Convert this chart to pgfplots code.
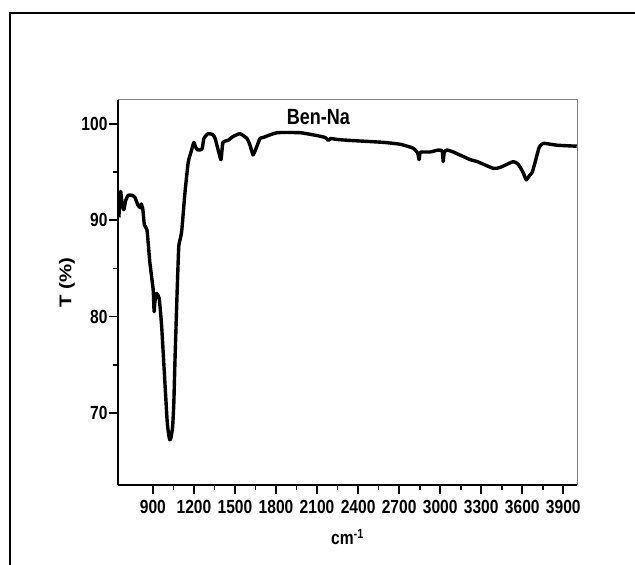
\documentclass[border=0pt]{standalone}
\usepackage{fontspec}
\setmainfont{Liberation Sans}
\newfontfamily\hfont[FakeStretch=0.82]{Liberation Sans}
\newfontfamily\vfont[FakeStretch=1.2]{Liberation Sans}
\usepackage{pgfplots}
\pgfplotsset{compat=1.18}
\pgfplotstableread{
wn T
651 90.3
664 93.0
674 91.8
688 91.1
700 92.0
719 92.6
746 92.6
768 92.4
790 91.6
808 91.3
815 91.7
826 91.2
838 89.5
857 89.0
878 85.6
902 82.8
909 80.5
915 81.6
927 82.4
946 81.9
964 79.0
988 73.1
1005 69.0
1017 67.6
1024 67.2
1032 67.4
1044 68.5
1053 71.0
1061 75.2
1073 80.7
1083 85.0
1090 87.4
1110 88.8
1134 92.8
1158 96.0
1183 97.3
1200 98.1
1212 97.6
1229 97.3
1259 97.4
1273 98.5
1303 99.0
1339 98.9
1355 98.5
1368 97.8
1383 97.0
1398 96.3
1412 98.1
1449 98.3
1485 98.7
1537 99.0
1588 98.5
1610 97.8
1632 96.8
1655 97.5
1683 98.5
1705 98.6
1807 99.1
1976 99.1
2100 98.8
2160 98.6
2181 98.3
2200 98.5
2246 98.4
2342 98.3
2583 98.1
2707 97.9
2802 97.5
2835 97.0
2846 96.3
2852 97.0
2861 97.1
2927 97.1
2985 97.3
3015 97.2
3022 96.1
3030 97.1
3051 97.3
3095 97.1
3220 96.3
3271 96.1
3388 95.4
3439 95.5
3534 96.1
3571 95.8
3605 95.0
3629 94.2
3650 94.6
3673 95.0
3695 96.1
3724 97.6
3754 98.0
3856 97.8
3998 97.7
}\spectrum
\begin{document}
\begin{tikzpicture}[x=1pt,y=1pt]
\begin{axis}[
  scale only axis, width=459pt, height=385pt,
  xmin=645, xmax=4000, ymin=62.5, ymax=102.5,
  axis x line*=bottom, axis y line*=left,
  axis line style={line width=2pt, -},
  xtick={900,1200,...,3900}, ytick={70,80,90,100},
  minor x tick num=1, minor y tick num=1,
  xtick pos=bottom, ytick pos=left,
  tick align=outside, major tick length=9pt, minor tick length=5pt,
  major tick style={line width=1.7pt, black},
  minor tick style={line width=1.7pt, black},
  /pgf/number format/1000 sep={},
  /pgf/number format/assume math mode=true,
  tick label style={font=\hfont\bfseries\fontsize{19}{21}\selectfont},
  xticklabel style={yshift=-3pt},
  yticklabel style={xshift=2pt},
  xlabel={cm\textsuperscript{-1}}, ylabel={T (\%)},
  xlabel style={font=\hfont\bfseries\fontsize{19}{21}\selectfont, at={(rel axis cs:0.5,-0.135)}, anchor=center},
  ylabel style={font=\vfont\bfseries\fontsize{17}{20}\selectfont, at={(rel axis cs:-0.111,0.525)}, anchor=center},
  clip=false,
]
\coordinate (LL) at (rel axis cs:0,0);
\draw[gray, line width=1pt] (rel axis cs:0,1) -- (rel axis cs:1,1) -- (rel axis cs:1,0);
\addplot[black, line width=3.4pt, line join=round, smooth, tension=0.3] table[x=wn, y=T] {\spectrum};
\node[font=\hfont\bfseries\fontsize{22}{24}\selectfont] at (axis cs:2110,100.7) {Ben-Na};
\end{axis}
\pgfresetboundingbox
\path[use as bounding box] ([shift={(-118,-80)}]LL) rectangle ([shift={(517,485)}]LL);
\draw[line width=2pt] ([shift={(-108,-82)}]LL) -- ([shift={(-108,472)}]LL) -- ([shift={(520,472)}]LL);
\end{tikzpicture}
\end{document}
